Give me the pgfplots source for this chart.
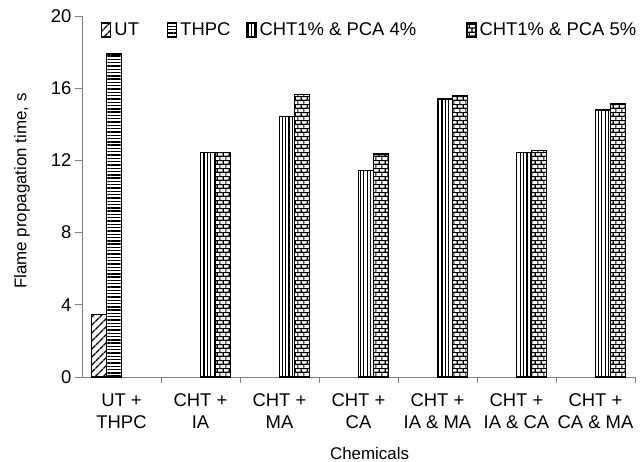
\documentclass[border=0pt]{standalone}
\usepackage{fontspec}
\setmainfont{Liberation Sans}
\usepackage{pgfplots}
\pgfplotsset{compat=1.18}
\usetikzlibrary{patterns,patterns.meta}

% bricks with heavy mortar
\pgfdeclarepatternformonly{mybricks}{\pgfpointorigin}{\pgfpoint{6bp}{8bp}}{\pgfpoint{6bp}{8bp}}{%
  \pgfsetlinewidth{1.3bp}
  \pgfpathmoveto{\pgfpoint{-1bp}{2bp}}\pgfpathlineto{\pgfpoint{7bp}{2bp}}
  \pgfpathmoveto{\pgfpoint{-1bp}{6bp}}\pgfpathlineto{\pgfpoint{7bp}{6bp}}
  \pgfpathmoveto{\pgfpoint{1.5bp}{2bp}}\pgfpathlineto{\pgfpoint{1.5bp}{6bp}}
  \pgfpathmoveto{\pgfpoint{4.5bp}{6bp}}\pgfpathlineto{\pgfpoint{4.5bp}{9bp}}
  \pgfpathmoveto{\pgfpoint{4.5bp}{-1bp}}\pgfpathlineto{\pgfpoint{4.5bp}{2bp}}
  \pgfusepath{stroke}}

\newcommand\tkfont{\fontsize{18.5}{22}\selectfont}
\newcommand\lbfont{\fontsize{17}{20}\selectfont}

\begin{document}
\begin{tikzpicture}
\begin{axis}[
  width=553bp, height=361bp, scale only axis,
  ybar=0pt, bar width=15bp,
  xmin=-0.5, xmax=6.5, ymin=0, ymax=20,
  axis x line*=bottom, axis y line*=left,
  axis line style={black!50, line width=0.8bp},
  tick align=outside,
  xtick={0,...,6},
  xticklabels={{UT +\\THPC},{CHT +\\IA},{CHT +\\MA},{CHT +\\CA},{CHT +\\IA \& MA},{CHT +\\IA \& CA},{CHT +\\CA \& MA}},
  xticklabel style={align=center, font=\tkfont, yshift=-6bp},
  major x tick style={draw=none},
  minor xtick={0.5,1.5,...,6.5},
  minor x tick style={black!50, line width=0.8bp},
  minor tick length=6bp,
  ytick={0,4,...,20},
  ytick style={black!50, line width=0.8bp},
  major tick length=7bp,
  yticklabel style={font=\tkfont},
  /pgf/number format/assume math mode=true,
  xlabel={Chemicals},
  ylabel={Flame propagation time, s},
  every axis x label/.style={at={(axis description cs:0.52,-0.228)}, anchor=base, font=\lbfont},
  every axis y label/.style={at={(axis description cs:-0.1085,0.515)}, rotate=90, anchor=center, font=\lbfont},
  legend columns=4,
  legend style={at={(axis description cs:0.0345,0.961)}, anchor=west,
    draw=none, fill=none, inner sep=0pt, font=\tkfont,
    nodes={inner sep=1bp},
    column sep=2bp,
    /tikz/column 2/.style={column sep=27bp},
    /tikz/column 4/.style={column sep=15bp},
    /tikz/column 6/.style={column sep=49bp}},
  legend image code/.code={\draw[#1, line width=1.2bp] (0bp,-7bp) rectangle (9bp,7bp);},
]
\addplot[draw=black, line width=1.3bp, pattern={Lines[angle=45,distance=6bp,line width=1.5bp]}]
  coordinates {(0,3.45)};
\addplot[draw=black, line width=1.3bp, pattern={Lines[angle=0,distance=3.3bp,line width=1.4bp]}]
  coordinates {(0,17.9)};
\addplot[draw=black, line width=1.3bp, pattern={Lines[angle=90,distance=3.4bp,line width=1.2bp]}]
  coordinates {(1,12.45) (2,14.45) (3,11.45) (4,15.4) (5,12.45) (6,14.8)};
\addplot[draw=black, line width=1.3bp, pattern=mybricks]
  coordinates {(1,12.45) (2,15.65) (3,12.35) (4,15.6) (5,12.55) (6,15.15)};
\legend{UT, THPC, CHT1\% \& PCA 4\%, CHT1\% \& PCA 5\%}
\end{axis}
\pgfresetboundingbox
\path[use as bounding box] (-82bp,-85bp) rectangle (559bp,377bp);
\end{tikzpicture}
\end{document}
